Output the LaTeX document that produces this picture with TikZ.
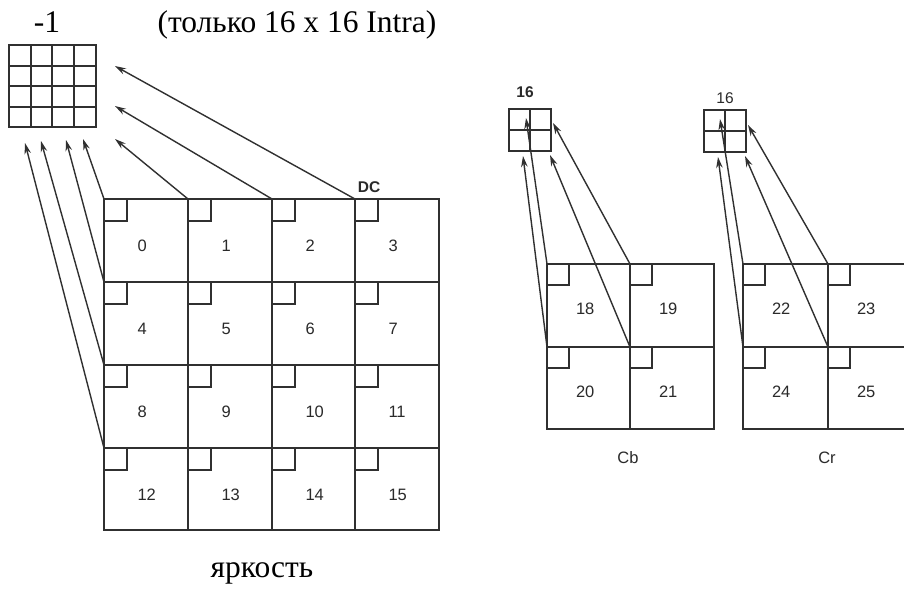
\documentclass[tikz,border=0pt]{standalone}
\usepackage{fontspec}
\setmainfont{Liberation Serif}
\newfontfamily\arial{Liberation Sans}
\usetikzlibrary{arrows.meta}
\definecolor{ink}{HTML}{303030}
\definecolor{txt}{HTML}{2a2a2a}
\begin{document}
\begin{tikzpicture}[x=1pt,y=-1pt,
  line width=2pt, draw=ink,
  cell/.style={draw=ink, line width=2pt, inner sep=0pt, outer sep=0pt},
  num/.style={font=\arial\fontsize{16.5}{16.5}\selectfont, text=txt, inner sep=0pt, anchor=base west},
  arr/.style={draw=ink, line width=1.4pt, -{Stealth[length=11pt,width=6.5pt]}},
  corner/.style={draw=ink, line width=1.6pt},
  gridln/.style={draw=ink, line width=1.8pt},
  lab/.style={font=\arial\fontsize{16.5}{16.5}\selectfont, text=txt, inner sep=0pt}
]
\useasboundingbox (0,0) rectangle (904,590);
\fill[white] (0,0) rectangle (904,590);

% titles
\node[font=\fontsize{31.5}{31.5}\selectfont, anchor=base, inner sep=0pt] (m1) at (47,32) {-1};
\node[font=\fontsize{31.5}{31.5}\selectfont, anchor=base, inner sep=0pt] (ttl) at (297,32) {(только 16 x 16 Intra)};
\node[font=\fontsize{31.5}{31.5}\selectfont, anchor=base, inner sep=0pt] (yark) at (262,577) {яркость};

% small 4x4 grid
\node[cell, minimum width=87pt, minimum height=82pt] (g4) at (52.5,86) {};
\foreach \gx in {31,52,74} {
  \draw[gridln] (\gx,45) -- (\gx,127);
}
\foreach \gy in {66,86,107} {
  \draw[gridln] (9,\gy) -- (96,\gy);
}

% luma blocks
\foreach \r in {0,1,2,3} {
  \foreach \c in {0,1,2,3} {
    \pgfmathtruncatemacro{\n}{4*\r+\c}
    \pgfmathsetmacro{\xa}{{104,188,272,355,439}[\c]}
    \pgfmathsetmacro{\xb}{{104,188,272,355,439}[\c+1]}
    \pgfmathsetmacro{\ya}{{199,282,365,448,530}[\r]}
    \pgfmathsetmacro{\yb}{{199,282,365,448,530}[\r+1]}
    \node[cell, minimum width={(\xb-\xa)*1pt}, minimum height={(\yb-\ya)*1pt}] (b\n) at ({(\xa+\xb)/2},{(\ya+\yb)/2}) {};
    \draw[corner] (b\n.north west) rectangle ++(23,22);
    \node[num] (n\n) at ([xshift=32.5pt,yshift=-52pt]b\n.north west) {\n};
  }
}
\node[font=\arial\bfseries\fontsize{15.5}{15.5}\selectfont, text=txt, inner sep=0pt] (dc) at (369,187) {DC};

% luma target points
\coordinate (t3) at (115,66);
\coordinate (t2) at (115,106);
\coordinate (t1) at (115,139);
\coordinate (t0) at (83,139);
\coordinate (t4) at (66,140);
\coordinate (t8) at (41,141);
\coordinate (t12) at (25,143);
\foreach \k in {3,2,1,0,4,8,12} {
  \draw[arr] (b\k.north west) -- (t\k);
}

% chroma small grids
\node[cell, minimum width=42pt, minimum height=42pt] (gb) at (530,130) {};
\draw[gridln] (gb.north) -- (gb.south);
\draw[gridln] (gb.west) -- (gb.east);
\node[cell, minimum width=42pt, minimum height=42pt] (gr) at (725,131) {};
\draw[gridln] (gr.north) -- (gr.south);
\draw[gridln] (gr.west) -- (gr.east);
\node[font=\arial\bfseries\fontsize{15.5}{15.5}\selectfont, text=txt, inner sep=0pt] (s16b) at (525,92) {16};
\node[font=\arial\fontsize{15.5}{15.5}\selectfont, text=txt, inner sep=0pt] (s16r) at (725,98) {16};

% Cb and Cr blocks
\foreach \n/\xa/\xb/\ya/\yb in {18/547/630/264/347,19/630/714/264/347,20/547/630/347/429,21/630/714/347/429,
                               22/743/828/264/347,23/828/913/264/347,24/743/828/347/429,25/828/913/347/429} {
  \node[cell, minimum width={(\xb-\xa)*1pt}, minimum height={(\yb-\ya)*1pt}] (c\n) at ({(\xa+\xb)/2},{(\ya+\yb)/2}) {};
  \draw[corner] (c\n.north west) rectangle ++(22,21);
  \node[num] (n\n) at ([xshift=28pt,yshift=-50pt]c\n.north west) {\n};
}
\node[lab] (cb) at (628,458) {Cb};
\node[lab] (cr) at (827,458) {Cr};

% chroma target points
\coordinate (t18) at (526,118);
\coordinate (t19) at (553,123);
\coordinate (t20) at (523,156);
\coordinate (t21) at (550,155);
\coordinate (t22) at (720,119);
\coordinate (t23) at (748,125);
\coordinate (t24) at (718,157);
\coordinate (t25) at (745,156);
\foreach \k in {18,19,20,21,22,23,24,25} {
  \draw[arr] (c\k.north west) -- (t\k);
}
\end{tikzpicture}
\end{document}
